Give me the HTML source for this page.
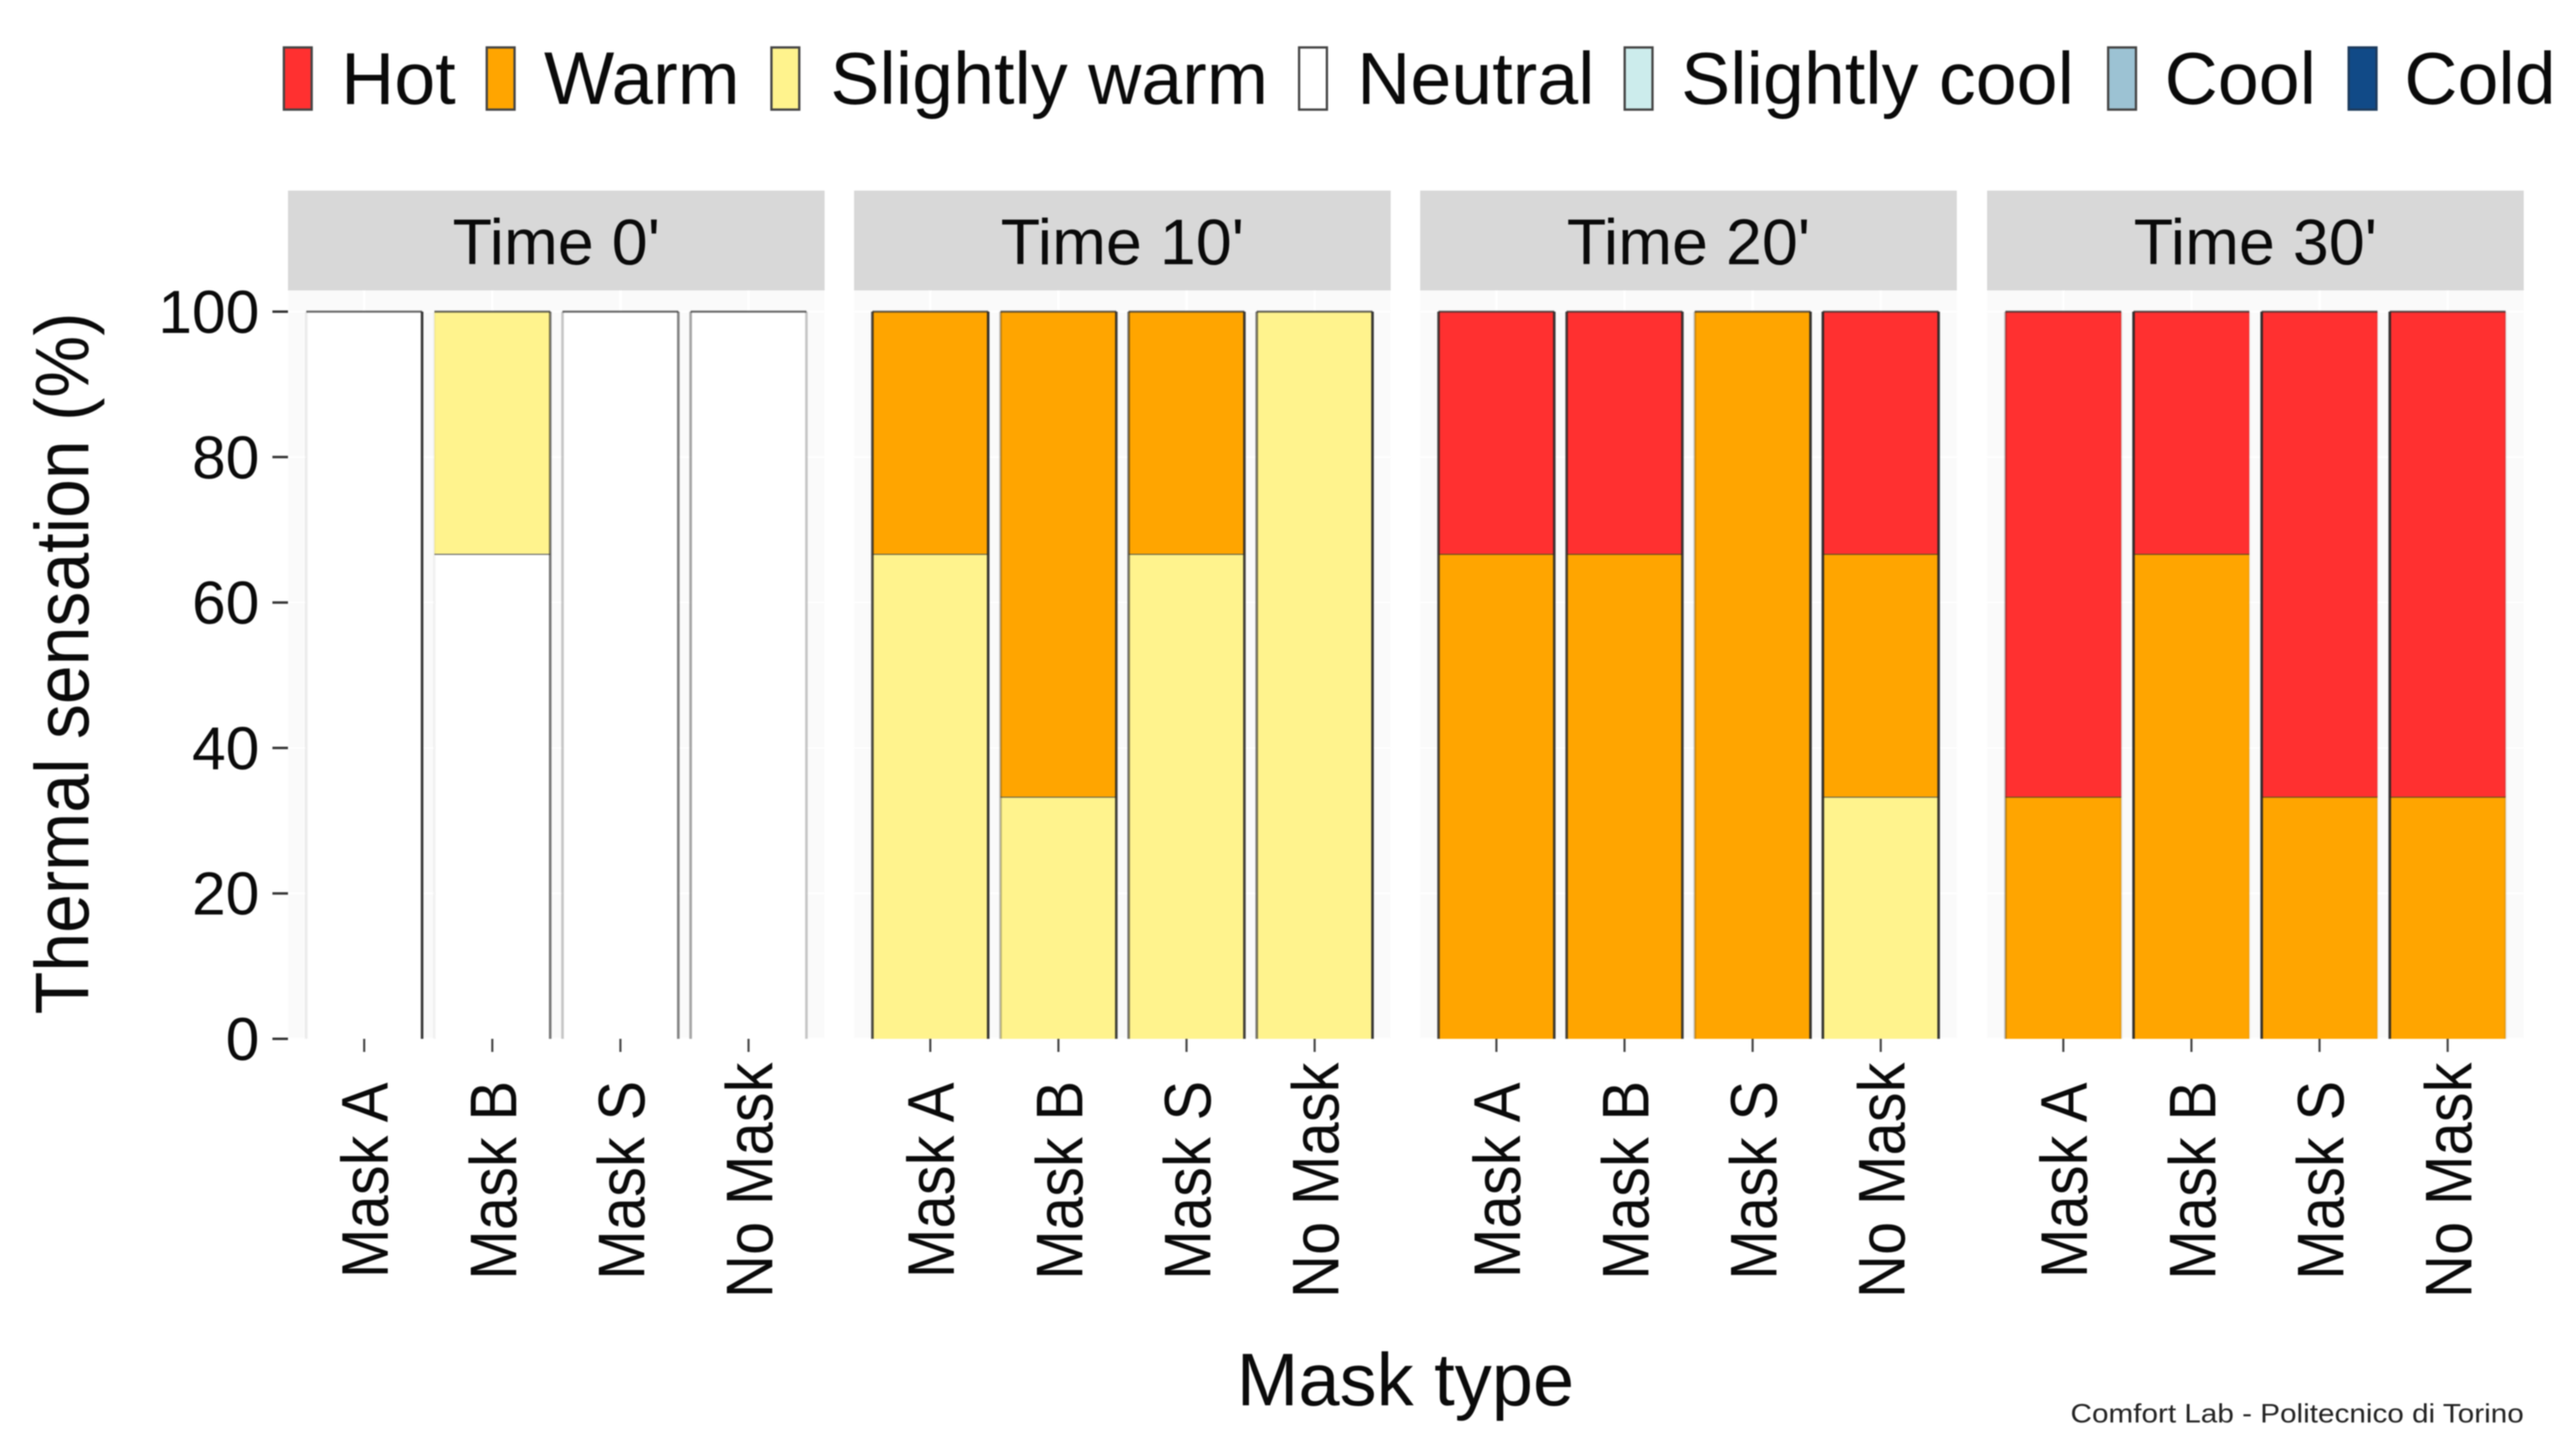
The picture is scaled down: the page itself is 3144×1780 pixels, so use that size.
<!DOCTYPE html>
<html lang="en">
<head>
<meta charset="utf-8">
<title>Thermal sensation by mask type</title>
<style>
html,body{margin:0;padding:0;background:#fff;}
svg{display:block;filter:blur(0.8px);}
text{font-family:"Liberation Sans",Arial,sans-serif;fill:#0a0a0a;}
</style>
</head>
<body>
<svg id="chart" xmlns="http://www.w3.org/2000/svg" width="3144" height="1780" viewBox="0 0 3144 1780">
  <rect x="0" y="0" width="3144" height="1780" fill="#ffffff"/>

  <g>
    <g>
      <rect x="347" y="58" width="34" height="76" fill="#ff3030" stroke="#444" stroke-width="2.8"/>
      <text x="417" y="127" font-size="90">Hot</text>
    </g>
    <g>
      <rect x="595" y="58" width="34" height="76" fill="#ffa500" stroke="#444" stroke-width="2.8"/>
      <text x="665" y="127" font-size="91">Warm</text>
    </g>
    <g>
      <rect x="943" y="58" width="34" height="76" fill="#fff38d" stroke="#444" stroke-width="2.8"/>
      <text x="1015" y="127" font-size="90">Slightly warm</text>
    </g>
    <g>
      <rect x="1588" y="58" width="34" height="76" fill="#ffffff" stroke="#444" stroke-width="2.8"/>
      <text x="1659" y="127" font-size="90">Neutral</text>
    </g>
    <g>
      <rect x="1986" y="58" width="34" height="76" fill="#ccecec" stroke="#444" stroke-width="2.8"/>
      <text x="2055" y="127" font-size="90">Slightly cool</text>
    </g>
    <g>
      <rect x="2577" y="58" width="34" height="76" fill="#9cc2d3" stroke="#444" stroke-width="2.8"/>
      <text x="2646" y="127" font-size="90">Cool</text>
    </g>
    <g>
      <rect x="2871" y="58" width="34" height="76" fill="#114a87" stroke="#1c3a5c" stroke-width="2.8"/>
      <text x="2939" y="127" font-size="90">Cold</text>
    </g>
  </g>

  <text transform="translate(108,811) rotate(-90) scale(1,1.09)" text-anchor="middle" font-size="85.3">Thermal sensation (%)</text>
  <text x="1718" y="1718" text-anchor="middle" font-size="90.5">Mask type</text>
  <text x="2531" y="1739" font-size="32" textLength="554" lengthAdjust="spacingAndGlyphs" style="fill:#222">Comfort Lab - Politecnico di Torino</text>

  <g id="plot"></g>
</svg>

<script>
// ---- chart data ----
const facets = ["Time 0'", "Time 10'", "Time 20'", "Time 30'"];
const masks = ["Mask A", "Mask B", "Mask S", "No Mask"];
const yTicks = [0, 20, 40, 60, 80, 100];

// percentage of responses, one row per facet, one value per mask
const cold = [[0,0,0,0],[0,0,0,0],[0,0,0,0],[0,0,0,0]];
const cool = [[0,0,0,0],[0,0,0,0],[0,0,0,0],[0,0,0,0]];
const slightlyCool = [[0,0,0,0],[0,0,0,0],[0,0,0,0],[0,0,0,0]];
const neutral = [[100,66.7,100,100],[0,0,0,0],[0,0,0,0],[0,0,0,0]];
const slightlyWarm = [[0,33.3,0,0],[66.7,33.3,66.7,100],[0,0,0,33.3],[0,0,0,0]];
const warm = [[0,0,0,0],[33.3,66.7,33.3,0],[66.7,66.7,100,33.4],[33.3,66.7,33.3,33.3]];
const hot = [[0,0,0,0],[0,0,0,0],[33.3,33.3,0,33.3],[66.7,33.3,66.7,66.7]];

// stacked from the bottom up
const stackNames = ["cold", "cool", "slightly-cool", "neutral", "slightly-warm", "warm", "hot"];
const stackSeries = [cold, cool, slightlyCool, neutral, slightlyWarm, warm, hot];
const stackColors = ["#114a87", "#9cc2d3", "#ccecec", "#ffffff", "#fff38d", "#ffa500", "#ff3030"];

// ---- layout ----
const NS = "http://www.w3.org/2000/svg";
const plot = document.getElementById("plot");
const panelW = 656, panelTop = 355, panelBottom = 1270;
const stripTop = 233, stripH = 122;
const panelLeft = i => 352 + i * 692 + (i === 3 ? 1 : 0);
const band = j => 93.2 + j * 156.6;
const barW = 141.5;
const xScale = (i, j) => panelLeft(i) + band(j);
const yScale = v => 1270 - v * 8.89;

// how strongly each bar's left/right outline shows in the resampled picture
const edgeStrength = [
  [[.08,.9],[.05,.6],[.25,.55],[.4,.25]],
  [[.8,.9],[.3,.85],[.6,.85],[.6,.9]],
  [[.8,.85],[.8,.85],[.25,.9],[.9,.9]],
  [[.3,.1],[.9,.05],[.9,.05],[.9,.1]]
];

function make(tag, attrs, parent) {
  const el = document.createElementNS(NS, tag);
  for (const k in attrs) el.setAttribute(k, attrs[k]);
  parent.appendChild(el);
  return el;
}

facets.forEach((facet, i) => {
  const px = panelLeft(i);
  const panel = make("g", {}, plot);
  
  

  const strip = make("rect", {x: px, y: stripTop, width: panelW, height: stripH, fill: "#d8d8d8"}, panel);
  
  

  const stripLabel = make("text", {x: px + panelW / 2, y: 323, "text-anchor": "middle", "font-size": 79}, panel);
  stripLabel.textContent = facet;
  
  

  const bg = make("rect", {x: px, y: panelTop, width: panelW, height: panelBottom - panelTop, fill: "#fafafa"}, panel);
  
  

  yTicks.forEach(t => {
    const g = make("line", {x1: px, x2: px + panelW, y1: yScale(t), y2: yScale(t), stroke: "#ffffff", "stroke-width": 2}, panel);
    
    
  });
  masks.forEach((m, j) => {
    const g = make("line", {x1: xScale(i, j), x2: xScale(i, j), y1: panelTop, y2: panelBottom, stroke: "#ffffff", "stroke-width": 3}, panel);
    
    
  });

  masks.forEach((m, j) => {
    const cx = xScale(i, j);
    const x0 = cx - barW / 2;
    const [eL, eR] = edgeStrength[i][j];
    let acc = 0;
    stackSeries.forEach((series, s) => {
      const v = series[i][j];
      if (!v) return;
      const yA = yScale(acc + v), yB = yScale(acc);
      const seg = make("rect", {x: x0, y: yA, width: barW, height: yB - yA, fill: stackColors[s]}, panel);
      
      
      acc += v;

      const topEdge = make("line", {x1: x0, x2: x0 + barW, y1: yA, y2: yA, stroke: "#2a2a2a", "stroke-width": 2.6, "stroke-opacity": 0.7}, panel);
      
      

      const leftEdge = make("line", {x1: x0, x2: x0, y1: yA, y2: yB, stroke: "#222", "stroke-width": 3.2, "stroke-opacity": eL}, panel);
      
      

      const rightEdge = make("line", {x1: x0 + barW, x2: x0 + barW, y1: yA, y2: yB, stroke: "#222", "stroke-width": 3.2, "stroke-opacity": eR}, panel);
      
      
    });

    const tick = make("line", {x1: cx, x2: cx, y1: panelBottom, y2: panelBottom + 16, stroke: "#444", "stroke-width": 2.6}, panel);
    
    

    const label = make("text", {transform: "translate(" + (cx + 29) + ",1443) rotate(-90) scale(1,1.1)", "text-anchor": "middle", "font-size": 73}, panel);
    label.textContent = m;
    
    
  });
});

yTicks.forEach(t => {
  const tick = make("line", {x1: 333, x2: 352, y1: yScale(t), y2: yScale(t), stroke: "#333", "stroke-width": 3}, plot);
  
  

  const label = make("text", {x: 317, y: yScale(t) + 26, "text-anchor": "end", "font-size": 74}, plot);
  label.textContent = t;
  
  
});
</script>
</body>
</html>
